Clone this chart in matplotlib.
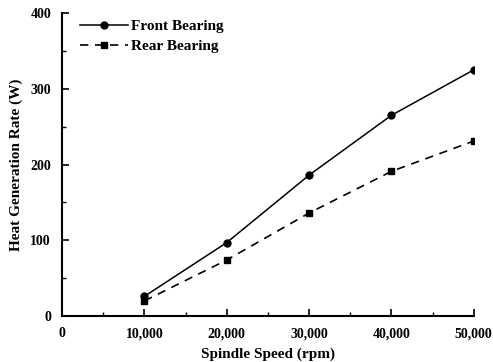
import matplotlib
matplotlib.use("Agg")
import matplotlib.pyplot as plt
from matplotlib.ticker import MultipleLocator, FuncFormatter

# Data
speed = [10000, 20000, 30000, 40000, 50000]
front = [26, 97, 186, 265, 325]
rear = [20, 74, 136, 191, 231]

plt.rcParams['font.family'] = ['Liberation Serif', 'DejaVu Serif']
plt.rcParams['font.weight'] = 'bold'

fig = plt.figure(figsize=(4.93, 3.62), dpi=100)
ax = fig.add_axes([0.126, 0.127, 0.835, 0.837])

ax.plot(speed, front, '-', color='black', lw=1.1, marker='o', ms=5,
        label='Front Bearing')
ax.plot(speed, rear, '--', color='black', lw=1.2, marker='s', ms=4.5,
        dashes=(5, 4), label='Rear Bearing')

ax.set_xlim(0, 50000)
ax.set_ylim(0, 400)
ax.xaxis.set_major_locator(MultipleLocator(10000))
ax.xaxis.set_minor_locator(MultipleLocator(5000))
ax.yaxis.set_major_locator(MultipleLocator(100))
ax.yaxis.set_minor_locator(MultipleLocator(50))
ax.xaxis.set_major_formatter(FuncFormatter(lambda v, p: f"{int(v):,}"))

for s in ['top', 'right']:
    ax.spines[s].set_visible(False)
for s in ['left', 'bottom']:
    ax.spines[s].set_linewidth(1.5)

ax.tick_params(which='major', direction='in', length=5, width=1.2,
               labelsize=10, pad=8)
ax.tick_params(which='minor', direction='in', length=3, width=1)
for lab in ax.get_xticklabels() + ax.get_yticklabels():
    lab.set_fontweight('bold')

ax.set_xlabel('Spindle Speed (rpm)', fontsize=11, fontweight='bold', labelpad=5)
ax.set_ylabel('Heat Generation Rate (W)', fontsize=11, fontweight='bold', labelpad=5)

leg = ax.legend(loc='upper left', bbox_to_anchor=(0.02, 1.01), frameon=False,
                prop={'weight': 'bold', 'size': 11}, handlelength=3.2,
                handletextpad=0.2, labelspacing=0.45, borderaxespad=0.2)

fig.savefig("out.png", dpi=100)
